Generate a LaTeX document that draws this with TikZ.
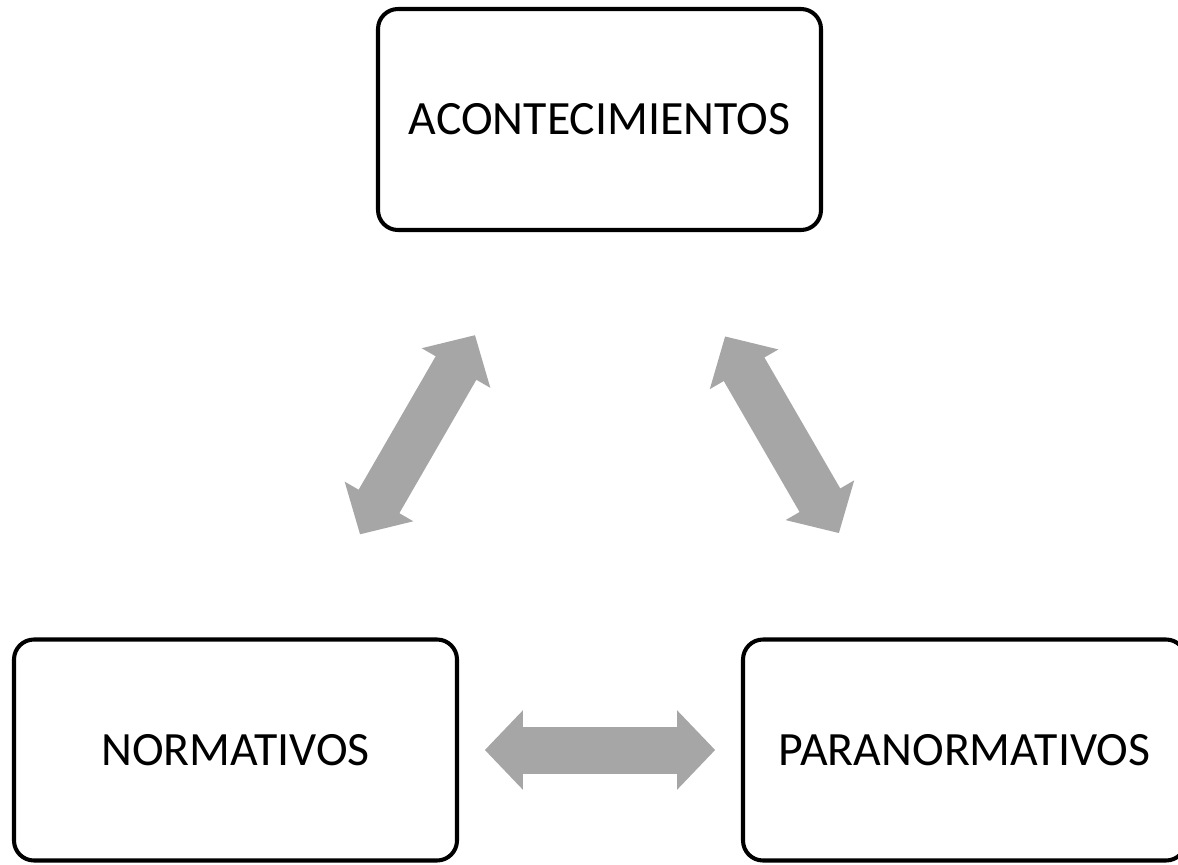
\documentclass[tikz,border=0pt]{standalone}
\usepackage{fontspec}
\setmainfont{Carlito}
\usetikzlibrary{arrows.meta,calc}
\definecolor{grisflecha}{HTML}{A6A6A6}
\tikzset{
  caja/.style={draw, line width=2.3pt, rounded corners=0.4cm,
    minimum width=8.86cm, minimum height=4.42cm,
    font=\fontsize{27.2}{32}\selectfont},
  flecha/.style={grisflecha, line width=0.94cm,
    {Triangle[length=0.76cm,width=1.54cm]}-{Triangle[length=0.76cm,width=1.54cm]}}
}
\begin{document}
\begin{tikzpicture}
\useasboundingbox (0,0) rectangle (23.56,17.28);
\node[caja] (acon) at (11.99,14.89) {ACONTECIMIENTOS};
\node[caja] (norm) at (4.71,2.28) {NORMATIVOS};
\node[caja] (para) at (19.29,2.28) {PARANORMATIVOS};
% flechas dobles
\draw[flecha] ($(norm)!0.342!(acon)$) -- ($(norm)!0.658!(acon)$);
\draw[flecha] ($(acon)!0.344!(para)$) -- ($(acon)!0.656!(para)$);
\draw[flecha] ($(norm)!0.342!(para)$) -- ($(norm)!0.658!(para)$);
\end{tikzpicture}
\end{document}
